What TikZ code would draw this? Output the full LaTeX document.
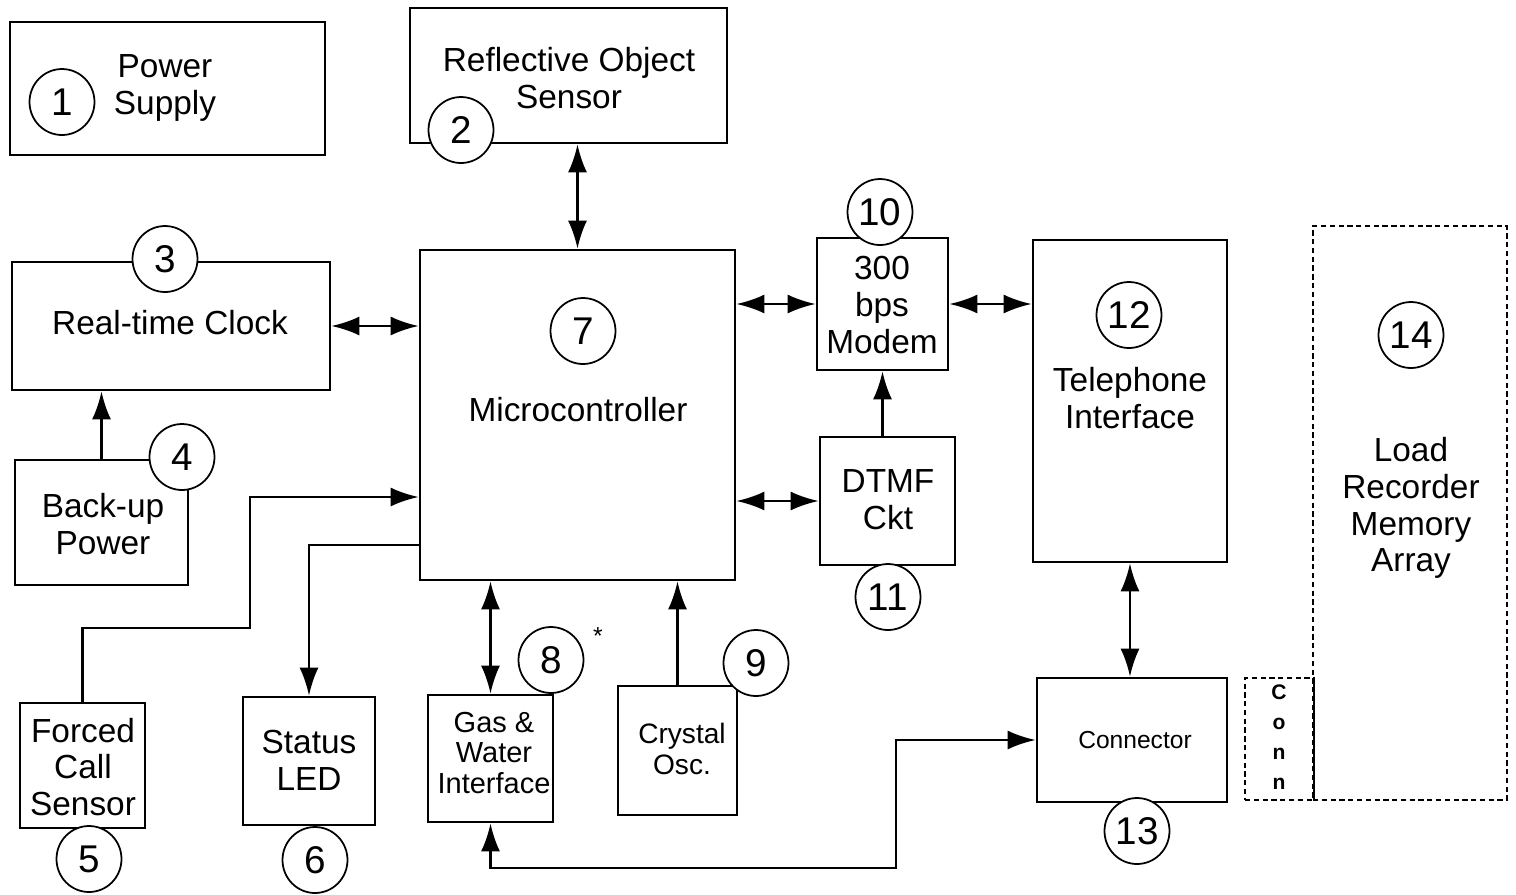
\documentclass[tikz,border=0pt]{standalone}
\usepackage{fontspec}
\setmainfont{Liberation Sans}
\usetikzlibrary{arrows.meta,fit,shapes.geometric}

\begin{document}
\begin{tikzpicture}[x=0.02cm,y=-0.02cm,
        >={Latex[length=5.6mm,width=3.8mm]},
        blk/.style={draw,line width=1.5pt,inner sep=0pt},
        num/.style={draw,ellipse,fill=white,line width=1pt,minimum width=1.3cm,minimum height=1.32cm,inner sep=0pt,font=\fontsize{22}{22}\selectfont},
        txt/.style={align=center,font=\fontsize{19}{21}\selectfont},
        wire/.style={line width=1.5pt}]
        \useasboundingbox (0,0) rectangle (1516,894);
        % blocks
        \node[blk,fit={(10,22) (325,155)}] (psu) {};
        \node[blk,fit={(410,8) (727,143)}] (ros) {};
        \node[blk,fit={(12,262) (330,390)}] (rtc) {};
        \node[blk,fit={(15,460) (188,585)}] (bkp) {};
        \node[blk,fit={(20,703) (145,828)}] (fcs) {};
        \node[blk,fit={(243,697) (375,825)}] (led) {};
        \node[blk,fit={(420,250) (735,580)}] (mcu) {};
        \node[blk,fit={(428,695) (553,822)}] (gwi) {};
        \node[blk,fit={(618,686) (737,815)}] (xtal) {};
        \node[blk,fit={(817,238) (948,370)}] (mdm) {};
        \node[blk,fit={(820,437) (955,565)}] (dtmf) {};
        \node[blk,fit={(1033,240) (1227,562)}] (tel) {};
        \node[blk,fit={(1037,678) (1227,802)}] (conn) {};
        \node[blk,line width=1pt,densely dashed,fit={(1313,226) (1507,800)}] (mem) {};
        \node[blk,line width=1pt,densely dashed,fit={(1245,678) (1313,800)}] (plug) {};
        \draw[wire] (plug.north east) -- (plug.south east);
        % texts
        \node[txt] (psu-t) at (165,88) {Power\\Supply};
        \node[txt] (ros-t) at (569,78) {Reflective Object\\Sensor};
        \node[txt] (rtc-t) at (170,323) {Real-time Clock};
        \node[txt] (bkp-t) at (103,524) {Back-up\\Power};
        \node[txt] (fcs-t) at (83,767) {Forced\\Call\\Sensor};
        \node[txt] (led-t) at (309,760) {Status\\LED};
        \node[txt] (mcu-t) at (578,410) {Microcontroller};
        \node[txt,font=\fontsize{16.5}{17.5}\selectfont] (gwi-t) at (494,753) {Gas \&\\Water\\Interface};
        \node[txt,font=\fontsize{16}{18}\selectfont] (xtal-t) at (682,749) {Crystal\\Osc.};
        \node[txt] (mdm-t) at (882,305) {300\\bps\\Modem};
        \node[txt] (dtmf-t) at (888,500) {DTMF\\Ckt};
        \node[txt] (tel-t) at (1130,398) {Telephone\\Interface};
        \node[txt,font=\fontsize{14}{16}\selectfont] (conn-t) at (1135,740) {Connector};
        \node[txt] (mem-t) at (1411,508) {Load\\Recorder\\Memory\\Array};
        \node[align=center,font=\bfseries\fontsize{12}{17}\selectfont] (plug-t) at (1279,737) {C\\o\\n\\n};
        \node[font=\fontsize{14}{14}\selectfont] (ast) at (598,636) {*};
        % numbers
        \node[num] (n1) at (62,102) {1};
        \node[num] (n2) at (461,130) {2};
        \node[num] (n3) at (165,259) {3};
        \node[num] (n4) at (182,457) {4};
        \node[num] (n5) at (89,859) {5};
        \node[num] (n6) at (315,860) {6};
        \node[num] (n7) at (583,331) {7};
        \node[num] (n8) at (551,660) {8};
        \node[num] (n9) at (756,663) {9};
        \node[num] (n10) at (880,212) {10};
        \node[num] (n11) at (888,597) {11};
        \node[num] (n12) at (1129,315) {12};
        \node[num] (n13) at (1137,831) {13};
        \node[num] (n14) at (1411,335) {14};
        % connections
        \draw[wire,<->] (ros.south -| mcu.north) -- (mcu.north);
        \draw[wire,<->] (rtc.east) -- (rtc.east -| mcu.west);
        \draw[wire,<->] (mcu.east |- mdm.west) -- (mdm.west);
        \draw[wire,<->] (mdm.east) -- (mdm.east -| tel.west);
        \draw[wire,->] (dtmf.north -| mdm.south) -- (mdm.south);
        \draw[wire,<->] (mcu.east |- dtmf.west) -- (dtmf.west);
        \draw[wire,->] (bkp.north) -- (bkp.north |- rtc.south);
        \draw[wire,->] (fcs.north) |- (250,628) |- (mcu.west |- 0,497);
        \draw[wire,->] (mcu.west |- 0,545) -| (led.north);
        \draw[wire,<->] (mcu.south -| gwi.north) -- (gwi.north);
        \draw[wire,->] (xtal.north) -- (xtal.north |- mcu.south);
        \draw[wire,<->] (tel.south) -- (tel.south |- conn.north);
        \draw[wire,<->] (gwi.south) |- (896,868) |- (conn.west);
    \end{tikzpicture}
\end{document}
